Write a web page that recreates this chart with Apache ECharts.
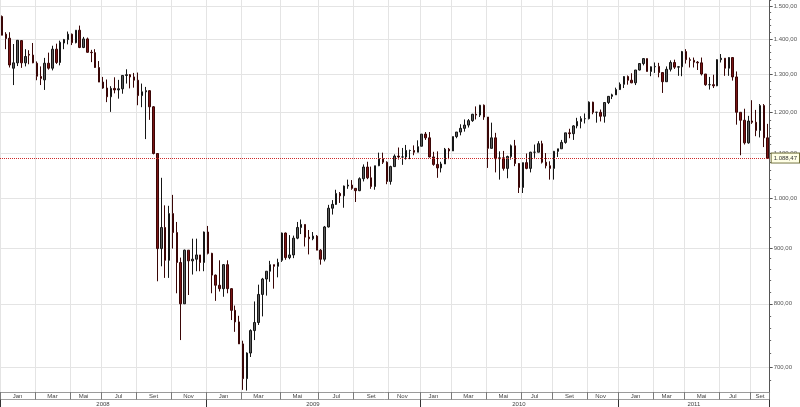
<!DOCTYPE html>
<html><head><meta charset="utf-8">
<script src="https://cdn.jsdelivr.net/npm/echarts@6/dist/echarts.min.js"></script>
<style>html,body{margin:0;padding:0;background:#fff}#c{width:800px;height:407px}</style>
</head><body><div id="c"></div>
<script>
// period labels (one candle per period)
const dates = [
"2008-01-04","2008-01-11","2008-01-18","2008-01-25","2008-02-01","2008-02-08","2008-02-15","2008-02-22","2008-02-29",
"2008-03-07","2008-03-14","2008-03-20","2008-03-28","2008-04-04","2008-04-11","2008-04-18","2008-04-25","2008-04-30",
"2008-05-09","2008-05-16","2008-05-23","2008-05-30","2008-06-06","2008-06-13","2008-06-20","2008-06-27",
"2008-07-03","2008-07-11","2008-07-18","2008-07-25","2008-08-01","2008-08-08","2008-08-15","2008-08-22","2008-08-29",
"2008-09-05","2008-09-12","2008-09-19","2008-09-26","2008-10-03","2008-10-10","2008-10-17","2008-10-24","2008-10-31",
"2008-11-07","2008-11-14","2008-11-21","2008-11-28","2008-12-05","2008-12-12","2008-12-19","2008-12-26","2008-12-31",
"2009-01-09","2009-01-16","2009-01-23","2009-01-30","2009-02-06","2009-02-13","2009-02-18","2009-02-20","2009-02-27",
"2009-03-06","2009-03-11","2009-03-13","2009-03-20","2009-03-27","2009-04-03","2009-04-09","2009-04-17","2009-04-24","2009-04-30",
"2009-05-08","2009-05-15","2009-05-22","2009-05-29","2009-06-05","2009-06-12","2009-06-19","2009-06-26","2009-06-29","2009-06-30",
"2009-07-10","2009-07-17","2009-07-24","2009-07-31","2009-08-07","2009-08-14","2009-08-21","2009-08-26","2009-08-28",
"2009-09-04","2009-09-11","2009-09-18","2009-09-25","2009-10-02","2009-10-09","2009-10-16","2009-10-23","2009-10-30",
"2009-11-06","2009-11-13","2009-11-20","2009-11-27","2009-12-04","2009-12-11","2009-12-18","2009-12-31",
"2010-01-08","2010-01-15","2010-01-22","2010-01-29","2010-02-05","2010-02-12","2010-02-19","2010-02-26",
"2010-03-05","2010-03-12","2010-03-19","2010-03-26","2010-04-01","2010-04-09","2010-04-16","2010-04-23","2010-04-30",
"2010-05-07","2010-05-14","2010-05-21","2010-05-28","2010-06-04","2010-06-11","2010-06-18","2010-06-25","2010-06-30",
"2010-07-09","2010-07-16","2010-07-23","2010-07-30","2010-08-06","2010-08-13","2010-08-20","2010-08-27",
"2010-09-03","2010-09-10","2010-09-17","2010-09-24","2010-10-01","2010-10-08","2010-10-15","2010-10-22","2010-10-29",
"2010-11-05","2010-11-12","2010-11-19","2010-11-26","2010-12-03","2010-12-10","2010-12-17","2010-12-31",
"2011-01-07","2011-01-14","2011-01-21","2011-01-28","2011-02-04","2011-02-11","2011-02-18","2011-02-23","2011-02-25",
"2011-03-04","2011-03-11","2011-03-18","2011-03-25","2011-04-01","2011-04-08","2011-04-15","2011-04-29",
"2011-05-06","2011-05-13","2011-05-20","2011-05-27","2011-06-03","2011-06-10","2011-06-17","2011-06-24","2011-06-30",
"2011-07-08","2011-07-15","2011-07-22","2011-07-29","2011-08-05","2011-08-12","2011-08-19","2011-08-26",
"2011-09-02","2011-09-09","2011-09-16","2011-09-23","2011-09-30"
];
const opens = [
1468,1414,1402,1316,1331,1395,1331,1355,1353,
1330,1293,1284,1330,1316,1370,1332,1388,1398,
1414,1389,1426,1375,1400,1361,1360,1318,
1278,1262,1239,1261,1257,1260,1296,1298,1292,
1283,1242,1252,1255,1213,1099,899,940,877,
968,930,873,800,896,876,879,887,873,
931,890,850,832,826,869,826,789,770,
735,683,721,756,769,816,843,857,869,866,
877,929,882,887,919,940,946,921,918,923,
896,879,941,979,987,1010,1005,1026,1028,
1021,1016,1042,1068,1044,1025,1071,1087,1079,
1036,1069,1093,1091,1091,1106,1106,1102,
1116,1145,1136,1091,1074,1066,1075,1109,
1105,1139,1150,1159,1167,1178,1194,1192,1217,
1187,1111,1136,1087,1089,1065,1092,1117,1076,
1023,1078,1065,1102,1102,1122,1079,1071,
1065,1104,1110,1125,1148,1146,1165,1176,1183,
1183,1225,1199,1199,1189,1224,1240,1244,
1258,1272,1293,1283,1276,1311,1329,1343,1307,
1320,1321,1304,1279,1313,1332,1319,1320,
1363,1340,1338,1333,1331,1300,1271,1271,1268,
1340,1344,1316,1346,1292,1199,1179,1124,
1177,1174,1154,1216,1136
];
const highs = [
1471,1420,1420,1385,1396,1396,1370,1367,1388,
1335,1321,1345,1360,1380,1386,1395,1400,1422,
1416,1426,1440,1406,1404,1368,1370,1336,
1292,1285,1267,1291,1284,1297,1313,1300,1303,
1304,1274,1265,1256,1215,1099,1044,985,984,
1007,951,882,897,896,918,918,887,932,
943,891,851,877,870,877,827,797,780,
740,722,758,804,833,845,857,876,869,880,
930,930,925,924,951,956,946,935,931,925,
898,943,986,996,1018,1013,1027,1040,1039,
1021,1045,1074,1080,1069,1071,1101,1101,1081,
1071,1097,1113,1112,1119,1108,1118,1130,
1145,1150,1150,1103,1104,1080,1112,1112,
1139,1150,1169,1181,1182,1195,1214,1218,1219,
1187,1173,1148,1104,1105,1094,1120,1131,1077,
1078,1099,1103,1120,1128,1129,1100,1081,
1105,1110,1131,1148,1158,1167,1185,1189,1196,
1227,1226,1200,1206,1225,1241,1247,1263,
1277,1294,1296,1302,1311,1330,1344,1343,1321,
1332,1331,1304,1321,1338,1340,1322,1365,
1370,1346,1346,1336,1346,1300,1292,1298,1341,
1356,1344,1347,1346,1307,1199,1208,1190,
1230,1205,1220,1220,1170
];
const lows = [
1411,1370,1318,1270,1322,1317,1321,1327,1330,
1283,1270,1257,1312,1310,1328,1324,1370,1384,
1382,1387,1373,1373,1360,1333,1317,1278,
1260,1225,1200,1248,1234,1247,1274,1261,1263,
1217,1212,1133,1180,1097,839,866,845,845,
899,818,741,800,815,851,857,857,857,
888,818,805,821,812,818,773,754,735,
667,666,715,741,765,779,814,838,826,846,
874,878,879,881,917,927,903,888,915,896,
869,875,940,966,986,990,980,1020,1018,
992,1015,1036,1041,1020,1018,1070,1075,1030,
1029,1069,1085,1073,1085,1086,1095,1102,
1116,1131,1090,1071,1044,1056,1075,1086,
1105,1135,1142,1151,1161,1175,1181,1187,1180,
1066,1111,1056,1040,1060,1043,1085,1070,1011,
1011,1063,1056,1089,1102,1076,1065,1040,
1040,1091,1110,1122,1135,1131,1159,1159,1171,
1181,1194,1173,1176,1173,1220,1233,1244,
1257,1262,1271,1275,1270,1310,1324,1307,1294,
1303,1291,1249,1279,1307,1314,1295,1294,
1329,1318,1318,1311,1296,1268,1258,1262,1267,
1332,1295,1295,1282,1168,1095,1120,1122,
1170,1140,1137,1114,1087
];
const closes = [
1411,1401,1325,1331,1396,1331,1349,1353,1331,
1294,1288,1330,1316,1370,1332,1390,1398,1414,
1389,1426,1375,1400,1361,1360,1318,1278,
1262,1239,1261,1257,1260,1296,1298,1292,1283,
1242,1252,1255,1213,1099,899,940,877,968,
930,873,800,896,876,879,887,873,931,
890,850,832,826,869,826,789,770,735,
683,721,756,769,816,843,857,869,866,873,
929,882,887,919,940,946,921,918,923,896,
879,941,979,987,1010,1005,1026,1028,1021,
1016,1042,1068,1044,1025,1071,1087,1079,1036,
1069,1093,1091,1091,1106,1106,1102,1115,
1145,1136,1091,1074,1066,1075,1109,1105,
1139,1150,1159,1167,1178,1194,1192,1217,1187,
1111,1136,1087,1089,1065,1092,1117,1076,1023,
1078,1065,1102,1102,1122,1079,1071,1065,
1104,1110,1125,1148,1146,1165,1176,1183,1183,
1225,1199,1199,1189,1224,1240,1244,1258,
1272,1293,1283,1276,1311,1329,1343,1307,1320,
1321,1304,1279,1313,1332,1319,1320,1363,
1340,1338,1333,1331,1300,1271,1271,1268,1340,
1344,1316,1346,1292,1199,1179,1124,1177,
1174,1154,1216,1136,1088.47
];
const monthNames = ['Jan','Mar','Mai','Jul','Set','Nov'];
const yTicks = [700,800,900,1000,1100,1200,1300,1400,1500];
const yMinorTicks = [680,720,740,760,780,820,840,860,880,920,940,960,980,1020,1040,1060,1080,1120,1140,1160,1180,1220,1240,1260,1280,1320,1340,1360,1380,1420,1440,1460,1480,1520];

const FONT = 'Liberation Sans';
function fmt(v){
  const s = Number(v).toFixed(2).split('.');
  return s[0].replace(/\B(?=(\d{3})+(?!\d))/g,'.') + ',' + s[1];
}
const bandOf = d => (+d.slice(0,4))*6 + Math.floor((+d.slice(5,7)-1)/2);
const yearOf = d => +d.slice(0,4);
const n = dates.length;
const bandStart = [], yearStart = [];
for (let i=0;i<n;i++){
  bandStart.push(i===0 || bandOf(dates[i])!==bandOf(dates[i-1]));
  yearStart.push(i===0 || yearOf(dates[i])!==yearOf(dates[i-1]));
}
function mids(starts){
  const m = new Array(n).fill(false);
  let s = 0;
  for (let i=1;i<=n;i++){
    if (i===n || starts[i]){ const cnt=i-s; m[s+Math.floor((cnt-1)/2)] = true; s=i; }
  }
  return m;
}
const bandMid = mids(bandStart), yearMid = mids(yearStart);

const ohlc = dates.map((d,i)=>[opens[i],closes[i],lows[i],highs[i]]);
const last = closes[n-1];

const chart = echarts.init(document.getElementById('c'), null, {renderer:'canvas'});
chart.setOption({
  animation:false,
  backgroundColor:'#ffffff',
  textStyle:{fontFamily:FONT},
  grid:{left:-3.3, right:28.3, top:0, bottom:15, containLabel:false},
  xAxis:[
    {type:'category', data:dates, position:'bottom', boundaryGap:true,
     axisLine:{show:true, lineStyle:{color:'#9a9a9a', width:1}},
     axisTick:{show:false}, axisLabel:{show:false},
     splitLine:{show:true, interval:(i)=>bandStart[i], lineStyle:{color:'#e4e4e4', width:1}}},
    {type:'category', data:dates, position:'bottom', offset:0, boundaryGap:true,
     axisLine:{show:false},
     axisTick:{show:true, interval:(i)=>bandStart[i], length:7.5, lineStyle:{color:'#7a7a7a', width:1}},
     axisLabel:{show:true, interval:(i)=>bandMid[i], margin:1.5, fontSize:6, lineHeight:6, color:'#444', fontFamily:FONT,
       formatter:(v)=>monthNames[Math.floor((+v.slice(5,7)-1)/2)]},
     splitLine:{show:false}},
    {type:'category', data:dates, position:'bottom', offset:7.5, boundaryGap:true,
     axisLine:{show:true, lineStyle:{color:'#a0a0a0', width:1}},
     axisTick:{show:true, interval:(i)=>yearStart[i], length:7.5, lineStyle:{color:'#333', width:1}},
     axisLabel:{show:true, interval:(i)=>yearMid[i], margin:1.5, fontSize:6, lineHeight:6, color:'#444', fontFamily:FONT,
       formatter:(v)=>v.slice(0,4)},
     splitLine:{show:false}}
  ],
  yAxis:[
    {type:'log', logBase:10, min:664, max:1520, position:'right',
     axisLine:{show:true, lineStyle:{color:'#555', width:1}},
     axisTick:{show:true, customValues:yTicks, length:3, lineStyle:{color:'#555'}},
     axisLabel:{show:true, customValues:yTicks, formatter:fmt, fontSize:6, color:'#555', margin:4, fontFamily:FONT},
     splitLine:{show:true, lineStyle:{color:'#e4e4e4', width:1}}},
    {type:'log', logBase:10, min:664, max:1520, position:'right',
     axisLine:{show:false},
     axisTick:{show:true, customValues:yMinorTicks, length:1.5, lineStyle:{color:'#666'}},
     axisLabel:{show:false}, splitLine:{show:false}}
  ],
  series:[{
    type:'candlestick', xAxisIndex:0, yAxisIndex:0, data:ohlc,
    barWidth:2,
    itemStyle:{color:'#5c5c5c', color0:'#7a1414', borderColor:'#151515', borderColor0:'#3a0606', borderWidth:1},
    markLine:{silent:true, symbol:['none','none'], animation:false,
      data:[{yAxis:last}],
      lineStyle:{color:'#cc2a2a', type:'dotted', width:1},
      label:{show:true, position:'end', formatter:fmt(last), fontSize:6, color:'#333', fontFamily:FONT,
        backgroundColor:'#ffffe6', borderColor:'#6e6e3a', borderWidth:1, padding:[2,2,1,2], distance:2},
      emphasis:{disabled:true}}
  }]
});
</script></body></html>
